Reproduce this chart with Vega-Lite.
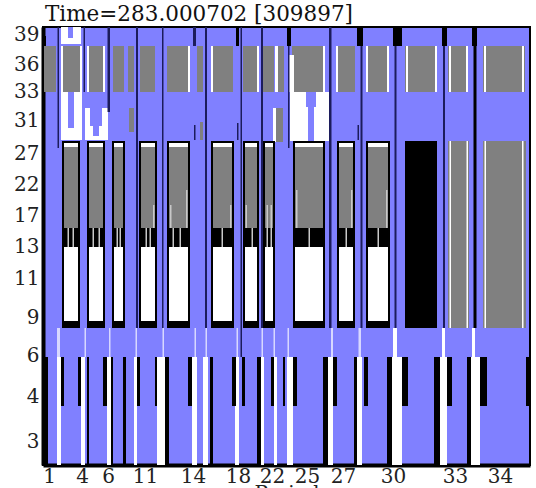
{
  "$schema": "https://vega.github.io/schema/vega-lite/v6.json",
  "autosize": {"type": "none"},
  "width": 487,
  "height": 438,
  "padding": {"left": 43, "top": 27, "right": 6, "bottom": 23},
  "background": "white",
  "title": {"text": "Time=283.000702 [309897]", "anchor": "start", "frame": "group", "font": "DejaVu Serif", "fontSize": 21.5, "fontWeight": "normal", "color": "#111", "baseline": "alphabetic", "offset": 4, "dx": 2, "dy": 22},
  "config": {
    "view": {"fill": "#8080ff", "stroke": "black", "strokeWidth": 2},
    "axis": {"grid": false, "ticks": false, "tickSize": 0, "domainColor": "black", "domainWidth": 4, "labelFont": "DejaVu Serif", "labelFontSize": 20, "labelColor": "#222", "labelFlush": false, "labelOverlap": false, "labelBound": false}
  },
  "data": {"values": [
    {"x":61,"x2":81,"y":27,"y2":44,"c":"w"},
    {"x":68,"x2":73,"y":27,"y2":38,"c":"b"},
    {"x":43,"x2":46,"y":36,"y2":92,"c":"k"},
    {"x":44,"x2":56,"y":46,"y2":92,"c":"g"},
    {"x":62,"x2":80,"y":46,"y2":92,"c":"g"},
    {"x":88,"x2":103,"y":46,"y2":92,"c":"g"},
    {"x":113,"x2":124,"y":46,"y2":92,"c":"g"},
    {"x":128,"x2":134,"y":46,"y2":92,"c":"g"},
    {"x":140,"x2":155,"y":46,"y2":92,"c":"g"},
    {"x":167,"x2":189,"y":46,"y2":92,"c":"g"},
    {"x":197,"x2":203,"y":46,"y2":92,"c":"g"},
    {"x":213,"x2":233,"y":46,"y2":92,"c":"g"},
    {"x":243,"x2":258,"y":46,"y2":92,"c":"g"},
    {"x":263,"x2":274,"y":46,"y2":92,"c":"g"},
    {"x":278,"x2":284,"y":46,"y2":92,"c":"g"},
    {"x":292,"x2":325,"y":46,"y2":92,"c":"g"},
    {"x":337,"x2":355,"y":46,"y2":92,"c":"g"},
    {"x":366,"x2":389,"y":46,"y2":92,"c":"g"},
    {"x":405,"x2":436,"y":46,"y2":92,"c":"g"},
    {"x":448,"x2":468,"y":46,"y2":92,"c":"g"},
    {"x":483,"x2":525,"y":46,"y2":92,"c":"g"},
    {"x":61,"x2":63,"y":46,"y2":92,"c":"w"},
    {"x":80,"x2":82,"y":46,"y2":92,"c":"w"},
    {"x":87,"x2":89,"y":46,"y2":92,"c":"w"},
    {"x":103,"x2":105,"y":46,"y2":92,"c":"w"},
    {"x":188,"x2":190,"y":46,"y2":92,"c":"w"},
    {"x":211,"x2":213,"y":46,"y2":92,"c":"w"},
    {"x":257,"x2":259,"y":46,"y2":92,"c":"w"},
    {"x":275,"x2":278,"y":46,"y2":92,"c":"w"},
    {"x":323,"x2":325,"y":46,"y2":92,"c":"w"},
    {"x":336,"x2":338,"y":46,"y2":92,"c":"w"},
    {"x":366,"x2":368,"y":46,"y2":92,"c":"w"},
    {"x":387,"x2":389,"y":46,"y2":92,"c":"w"},
    {"x":406,"x2":408,"y":46,"y2":92,"c":"w"},
    {"x":435,"x2":437,"y":46,"y2":92,"c":"w"},
    {"x":449,"x2":451,"y":46,"y2":92,"c":"w"},
    {"x":466,"x2":468,"y":46,"y2":92,"c":"w"},
    {"x":484,"x2":486,"y":46,"y2":92,"c":"w"},
    {"x":522,"x2":524,"y":46,"y2":92,"c":"w"},
    {"x":289,"x2":294,"y":55,"y2":92,"c":"w"},
    {"x":61,"x2":82,"y":92,"y2":140,"c":"w"},
    {"x":68,"x2":74,"y":92,"y2":128,"c":"b"},
    {"x":85,"x2":108,"y":108,"y2":140,"c":"w"},
    {"x":90,"x2":102,"y":108,"y2":126,"c":"b"},
    {"x":93,"x2":99,"y":126,"y2":136,"c":"b"},
    {"x":129,"x2":134,"y":108,"y2":132,"c":"g"},
    {"x":200,"x2":203,"y":122,"y2":140,"c":"g"},
    {"x":273,"x2":276,"y":108,"y2":142,"c":"w"},
    {"x":276,"x2":283,"y":108,"y2":142,"c":"g"},
    {"x":290,"x2":329,"y":92,"y2":141,"c":"w"},
    {"x":306,"x2":316,"y":92,"y2":107,"c":"b"},
    {"x":308,"x2":314,"y":107,"y2":141,"c":"b"},
    {"x":57.5,"x2":59,"y":27,"y2":148,"c":"n"},
    {"x":83.5,"x2":85,"y":27,"y2":92,"c":"n"},
    {"x":107.5,"x2":110,"y":27,"y2":112,"c":"n"},
    {"x":136,"x2":138,"y":27,"y2":328,"c":"n"},
    {"x":162,"x2":163.5,"y":27,"y2":328,"c":"n"},
    {"x":193,"x2":196,"y":27,"y2":46,"c":"n"},
    {"x":194,"x2":195.5,"y":125,"y2":140,"c":"n"},
    {"x":205,"x2":207,"y":27,"y2":328,"c":"n"},
    {"x":236,"x2":239,"y":27,"y2":46,"c":"k"},
    {"x":237,"x2":238.5,"y":123,"y2":140,"c":"n"},
    {"x":240.5,"x2":242,"y":27,"y2":328,"c":"n"},
    {"x":261,"x2":263,"y":27,"y2":328,"c":"n"},
    {"x":287,"x2":291,"y":27,"y2":46,"c":"k"},
    {"x":288,"x2":289.5,"y":46,"y2":148,"c":"n"},
    {"x":329,"x2":331.5,"y":27,"y2":328,"c":"n"},
    {"x":357,"x2":363,"y":27,"y2":46,"c":"k"},
    {"x":357.5,"x2":359,"y":125,"y2":140,"c":"n"},
    {"x":360.5,"x2":362.5,"y":46,"y2":328,"c":"n"},
    {"x":393,"x2":402,"y":27,"y2":46,"c":"k"},
    {"x":394.5,"x2":396.5,"y":46,"y2":328,"c":"n"},
    {"x":442,"x2":447,"y":27,"y2":46,"c":"k"},
    {"x":443,"x2":445,"y":46,"y2":328,"c":"n"},
    {"x":472,"x2":477,"y":27,"y2":46,"c":"k"},
    {"x":473.5,"x2":476.5,"y":46,"y2":328,"c":"k"},
    {"x":62,"x2":80,"y":141,"y2":328,"c":"k"},
    {"x":64,"x2":78,"y":143,"y2":147,"c":"w"},
    {"x":64,"x2":78,"y":147,"y2":228,"c":"g"},
    {"x":64,"x2":78,"y":247,"y2":321,"c":"w"},
    {"x":67.5,"x2":69,"y":228,"y2":247,"c":"s"},
    {"x":72.5,"x2":74,"y":228,"y2":247,"c":"s"},
    {"x":87,"x2":105,"y":141,"y2":328,"c":"k"},
    {"x":89,"x2":103,"y":143,"y2":147,"c":"w"},
    {"x":89,"x2":103,"y":147,"y2":228,"c":"g"},
    {"x":89,"x2":103,"y":247,"y2":321,"c":"w"},
    {"x":92.5,"x2":94,"y":228,"y2":247,"c":"s"},
    {"x":98.5,"x2":100,"y":228,"y2":247,"c":"s"},
    {"x":112,"x2":125,"y":141,"y2":328,"c":"k"},
    {"x":114,"x2":123,"y":143,"y2":147,"c":"w"},
    {"x":114,"x2":123,"y":147,"y2":228,"c":"g"},
    {"x":114,"x2":123,"y":247,"y2":321,"c":"w"},
    {"x":116.5,"x2":118,"y":228,"y2":247,"c":"s"},
    {"x":119.5,"x2":121,"y":228,"y2":247,"c":"s"},
    {"x":139,"x2":157,"y":141,"y2":328,"c":"k"},
    {"x":141,"x2":155,"y":143,"y2":147,"c":"w"},
    {"x":141,"x2":155,"y":147,"y2":228,"c":"g"},
    {"x":141,"x2":155,"y":247,"y2":321,"c":"w"},
    {"x":145.5,"x2":147,"y":228,"y2":247,"c":"s"},
    {"x":149.5,"x2":151,"y":228,"y2":247,"c":"s"},
    {"x":153,"x2":154.5,"y":205,"y2":228,"c":"s"},
    {"x":167,"x2":190,"y":141,"y2":328,"c":"k"},
    {"x":169,"x2":188,"y":143,"y2":147,"c":"w"},
    {"x":169,"x2":188,"y":147,"y2":228,"c":"g"},
    {"x":169,"x2":188,"y":247,"y2":321,"c":"w"},
    {"x":172.5,"x2":174,"y":228,"y2":247,"c":"s"},
    {"x":179.5,"x2":181,"y":228,"y2":247,"c":"s"},
    {"x":170,"x2":171.5,"y":205,"y2":228,"c":"s"},
    {"x":186,"x2":187.5,"y":190,"y2":228,"c":"s"},
    {"x":211,"x2":234,"y":141,"y2":328,"c":"k"},
    {"x":213,"x2":232,"y":143,"y2":147,"c":"w"},
    {"x":213,"x2":232,"y":147,"y2":228,"c":"g"},
    {"x":213,"x2":232,"y":247,"y2":321,"c":"w"},
    {"x":221.5,"x2":223,"y":228,"y2":247,"c":"s"},
    {"x":230,"x2":231.5,"y":205,"y2":228,"c":"s"},
    {"x":243,"x2":259,"y":141,"y2":328,"c":"k"},
    {"x":245,"x2":257,"y":143,"y2":147,"c":"w"},
    {"x":245,"x2":257,"y":147,"y2":228,"c":"g"},
    {"x":245,"x2":257,"y":247,"y2":321,"c":"w"},
    {"x":251.5,"x2":253,"y":228,"y2":247,"c":"s"},
    {"x":245.5,"x2":247,"y":205,"y2":228,"c":"s"},
    {"x":263,"x2":275,"y":141,"y2":328,"c":"k"},
    {"x":265,"x2":273,"y":143,"y2":147,"c":"w"},
    {"x":265,"x2":273,"y":147,"y2":228,"c":"g"},
    {"x":265,"x2":273,"y":247,"y2":321,"c":"w"},
    {"x":266.5,"x2":268,"y":205,"y2":247,"c":"s"},
    {"x":270.5,"x2":272,"y":205,"y2":247,"c":"s"},
    {"x":293,"x2":325,"y":141,"y2":328,"c":"k"},
    {"x":295,"x2":323,"y":143,"y2":147,"c":"w"},
    {"x":295,"x2":323,"y":147,"y2":228,"c":"g"},
    {"x":295,"x2":323,"y":247,"y2":321,"c":"w"},
    {"x":308.5,"x2":310,"y":228,"y2":247,"c":"s"},
    {"x":296,"x2":297.5,"y":190,"y2":228,"c":"s"},
    {"x":337,"x2":355,"y":141,"y2":328,"c":"k"},
    {"x":339,"x2":353,"y":143,"y2":147,"c":"w"},
    {"x":339,"x2":353,"y":147,"y2":228,"c":"g"},
    {"x":339,"x2":353,"y":247,"y2":321,"c":"w"},
    {"x":345.5,"x2":347,"y":228,"y2":247,"c":"s"},
    {"x":351,"x2":352.5,"y":190,"y2":228,"c":"s"},
    {"x":366,"x2":390,"y":141,"y2":328,"c":"k"},
    {"x":368,"x2":388,"y":143,"y2":147,"c":"w"},
    {"x":368,"x2":388,"y":147,"y2":228,"c":"g"},
    {"x":368,"x2":388,"y":247,"y2":321,"c":"w"},
    {"x":377.5,"x2":379,"y":228,"y2":247,"c":"s"},
    {"x":386,"x2":387.5,"y":190,"y2":228,"c":"s"},
    {"x":405,"x2":437,"y":141,"y2":328,"c":"k"},
    {"x":448,"x2":469,"y":141,"y2":328,"c":"g"},
    {"x":449.5,"x2":451,"y":141,"y2":328,"c":"w"},
    {"x":466.5,"x2":468,"y":141,"y2":328,"c":"w"},
    {"x":483,"x2":526,"y":141,"y2":328,"c":"g"},
    {"x":484.5,"x2":486,"y":141,"y2":328,"c":"w"},
    {"x":522,"x2":523.5,"y":141,"y2":328,"c":"w"},
    {"x":57,"x2":60,"y":328,"y2":357,"c":"l"},
    {"x":84.5,"x2":86,"y":328,"y2":357,"c":"l"},
    {"x":109,"x2":110.5,"y":328,"y2":357,"c":"l"},
    {"x":135.5,"x2":137,"y":328,"y2":357,"c":"l"},
    {"x":162.5,"x2":164,"y":328,"y2":357,"c":"l"},
    {"x":194.5,"x2":196,"y":328,"y2":357,"c":"l"},
    {"x":205.5,"x2":207,"y":328,"y2":357,"c":"l"},
    {"x":236.5,"x2":238,"y":328,"y2":357,"c":"l"},
    {"x":240.5,"x2":242,"y":328,"y2":357,"c":"n"},
    {"x":261.5,"x2":263,"y":328,"y2":357,"c":"l"},
    {"x":273.5,"x2":275,"y":328,"y2":357,"c":"l"},
    {"x":287.5,"x2":289,"y":328,"y2":357,"c":"l"},
    {"x":331,"x2":333,"y":328,"y2":357,"c":"l"},
    {"x":358.5,"x2":361,"y":328,"y2":357,"c":"l"},
    {"x":393,"x2":397,"y":328,"y2":357,"c":"w"},
    {"x":442,"x2":445,"y":328,"y2":357,"c":"w"},
    {"x":472,"x2":475,"y":328,"y2":357,"c":"w"},
    {"x":57,"x2":61,"y":357,"y2":465,"c":"w"},
    {"x":81,"x2":85,"y":357,"y2":465,"c":"w"},
    {"x":107,"x2":111,"y":357,"y2":465,"c":"w"},
    {"x":134,"x2":137,"y":357,"y2":465,"c":"w"},
    {"x":157,"x2":165,"y":357,"y2":465,"c":"w"},
    {"x":192,"x2":197,"y":357,"y2":465,"c":"w"},
    {"x":203,"x2":208,"y":357,"y2":465,"c":"w"},
    {"x":235,"x2":239,"y":357,"y2":465,"c":"w"},
    {"x":261,"x2":264,"y":357,"y2":465,"c":"w"},
    {"x":274,"x2":277,"y":357,"y2":465,"c":"w"},
    {"x":287,"x2":293,"y":357,"y2":465,"c":"w"},
    {"x":328,"x2":333,"y":357,"y2":465,"c":"w"},
    {"x":357,"x2":362,"y":357,"y2":465,"c":"w"},
    {"x":392,"x2":402,"y":357,"y2":465,"c":"w"},
    {"x":440,"x2":447,"y":357,"y2":465,"c":"w"},
    {"x":471,"x2":480,"y":357,"y2":465,"c":"w"},
    {"x":43,"x2":48,"y":357,"y2":465,"c":"k"},
    {"x":87,"x2":89,"y":357,"y2":465,"c":"k"},
    {"x":111,"x2":113,"y":357,"y2":465,"c":"k"},
    {"x":123,"x2":126,"y":357,"y2":465,"c":"k"},
    {"x":165,"x2":169,"y":357,"y2":465,"c":"k"},
    {"x":210,"x2":213,"y":357,"y2":465,"c":"k"},
    {"x":257,"x2":261,"y":357,"y2":465,"c":"k"},
    {"x":323,"x2":328,"y":357,"y2":465,"c":"k"},
    {"x":354,"x2":357,"y":357,"y2":465,"c":"k"},
    {"x":387,"x2":392,"y":357,"y2":465,"c":"k"},
    {"x":434,"x2":440,"y":357,"y2":465,"c":"k"},
    {"x":467,"x2":471,"y":357,"y2":465,"c":"k"},
    {"x":61,"x2":64,"y":357,"y2":406,"c":"k"},
    {"x":78,"x2":81,"y":357,"y2":406,"c":"k"},
    {"x":103,"x2":107,"y":357,"y2":406,"c":"k"},
    {"x":137,"x2":140,"y":357,"y2":406,"c":"k"},
    {"x":155,"x2":157,"y":357,"y2":406,"c":"k"},
    {"x":188,"x2":192,"y":357,"y2":406,"c":"k"},
    {"x":232,"x2":236,"y":357,"y2":406,"c":"k"},
    {"x":242,"x2":245,"y":357,"y2":406,"c":"k"},
    {"x":271,"x2":274,"y":357,"y2":406,"c":"k"},
    {"x":283,"x2":285,"y":357,"y2":406,"c":"k"},
    {"x":293,"x2":297,"y":357,"y2":406,"c":"k"},
    {"x":333,"x2":337,"y":357,"y2":406,"c":"k"},
    {"x":364,"x2":368,"y":357,"y2":406,"c":"k"},
    {"x":402,"x2":408,"y":357,"y2":406,"c":"k"},
    {"x":447,"x2":452,"y":357,"y2":406,"c":"k"},
    {"x":480,"x2":487,"y":357,"y2":406,"c":"k"},
    {"x":526,"x2":530,"y":357,"y2":406,"c":"k"}
  ]},
  "mark": {"type": "rect", "strokeWidth": 0},
  "encoding": {
    "x": {"field": "x", "type": "quantitative", "scale": {"domain": [43, 530], "nice": false, "zero": false},
      "axis": {"values": [49, 82, 108, 145, 193, 238, 272, 307, 343, 393, 455, 500], "labelExpr": "['1','4','6','11','14','18','22','25','27','30','33','34'][indexof([49,82,108,145,193,238,272,307,343,393,455,500], datum.value)]", "labelPadding": 1, "title": "Period", "titleFont": "DejaVu Serif", "titleFontSize": 20, "titleFontWeight": "normal", "titleColor": "#222", "titleBaseline": "top", "titleY": 18}},
    "x2": {"field": "x2"},
    "y": {"field": "y", "type": "quantitative", "scale": {"domain": [27, 465], "nice": false, "zero": false, "reverse": true},
      "axis": {"values": [34, 64, 91, 120, 153, 184, 215, 246, 278, 317, 355, 396, 441], "labelExpr": "['39','36','33','31','27','22','17','13','11','9','6','4','3'][indexof([34,64,91,120,153,184,215,246,278,317,355,396,441], datum.value)]", "labelPadding": 4, "title": null}},
    "y2": {"field": "y2"},
    "color": {"field": "c", "type": "nominal", "legend": null,
      "scale": {"domain": ["b", "g", "k", "w", "l", "n", "s"], "range": ["#8080ff", "#808080", "#000000", "#ffffff", "#d8d8ff", "#1c1c5c", "#c8c8c8"]}}
  }
}
